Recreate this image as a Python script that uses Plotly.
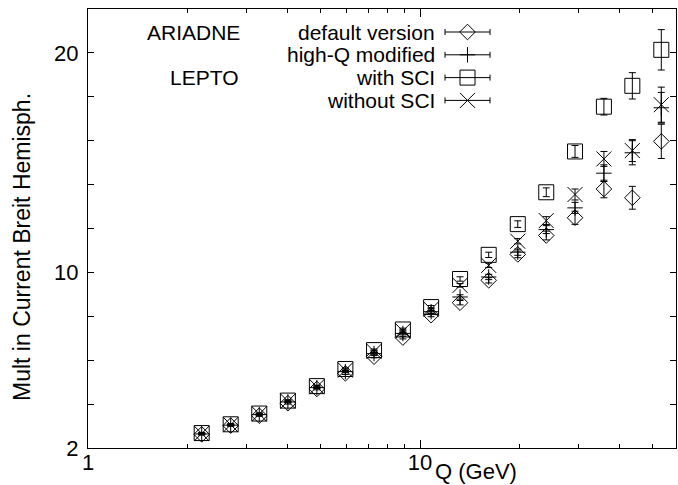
import plotly.graph_objects as go

# ---------------- data ----------------
Q = [2.2, 2.69, 3.28, 4.0, 4.89, 5.96, 7.27, 8.88, 10.8, 13.2, 16.1, 19.7, 24.0, 29.3, 35.8, 43.6, 53.3]

ariadne_default = [2.62, 3.02, 3.47, 4.04, 4.69, 5.40, 6.16, 7.03, 8.05, 8.62, 9.64, 10.82, 11.68, 12.49, 13.80, 13.40, 15.97]
ariadne_default_err = [0.03, 0.03, 0.03, 0.04, 0.04, 0.05, 0.05, 0.06, 0.07, 0.10, 0.12, 0.15, 0.20, 0.30, 0.40, 0.52, 0.78]

ariadne_highq = [2.64, 3.04, 3.52, 4.10, 4.75, 5.48, 6.30, 7.22, 8.21, 8.88, 9.79, 10.92, 11.95, 12.94, 14.52, 15.45, 17.5]
ariadne_highq_err = [0.03, 0.03, 0.03, 0.04, 0.04, 0.05, 0.05, 0.06, 0.07, 0.10, 0.12, 0.14, 0.18, 0.25, 0.38, 0.55, 0.70]

lepto_sci = [2.68, 3.08, 3.57, 4.16, 4.82, 5.60, 6.46, 7.40, 8.42, 9.70, 10.80, 12.20, 13.65, 15.51, 17.55, 18.50, 20.14]
lepto_sci_err = [0.03, 0.03, 0.03, 0.04, 0.04, 0.05, 0.05, 0.06, 0.07, 0.10, 0.12, 0.15, 0.20, 0.27, 0.38, 0.60, 0.92]

lepto_nosci = [2.66, 3.06, 3.55, 4.13, 4.79, 5.55, 6.40, 7.33, 8.32, 9.41, 10.32, 11.42, 12.36, 13.55, 15.17, 15.55, 17.64]
lepto_nosci_err = [0.03, 0.03, 0.03, 0.04, 0.04, 0.05, 0.05, 0.06, 0.07, 0.08, 0.10, 0.12, 0.18, 0.25, 0.34, 0.50, 0.80]

series_names = ["default version", "high-Q modified", "with SCI", "without SCI"]
group_labels = ["ARIADNE", "LEPTO"]

x_tick_vals = [1, 10]
x_tick_text = ["1", "10"]
x_minor_vals = [2, 3, 4, 5, 6, 7, 8, 9, 20, 30, 40, 50]
y_tick_vals = [2, 4, 6, 8, 10, 12, 14, 16, 18, 20]
y_tick_text = ["2", "", "", "", "10", "", "", "", "", "20"]

# ---------------- style ----------------
FONT = "Liberation Sans, Arial, Helvetica, sans-serif"
FS = 22
KFS = 21
W, H = 678, 485
L, R, T, B = 88, 2, 9, 37

styles = [
    dict(symbol="diamond-open", size=12),
    dict(symbol="cross-thin-open", size=11),
    dict(symbol="square-open", size=15),
    dict(symbol="x-thin-open", size=15),
]
datasets = [
    (ariadne_default, ariadne_default_err),
    (ariadne_highq, ariadne_highq_err),
    (lepto_sci, lepto_sci_err),
    (lepto_nosci, lepto_nosci_err),
]

fig = go.Figure()
for (vals, errs), st, name in zip(datasets, styles, series_names):
    fig.add_trace(go.Scatter(
        x=Q, y=vals, mode="markers", name=name, showlegend=False,
        marker=dict(symbol=st["symbol"], size=st["size"], color="black",
                    line=dict(color="black", width=1)),
        error_y=dict(type="data", array=errs, visible=True, color="black",
                     thickness=1, width=3.5),
    ))

# ---------------- hand-made key (pixel coordinates on overlay axes) ----------------
key_text_right = 437
key_marker_x = 467.5
key_half_len = 22.5
key_y0 = 32
key_dy = 22.8
for i, (st, name) in enumerate(zip(styles, series_names)):
    yy = key_y0 + i * key_dy
    fig.add_trace(go.Scatter(
        x=[key_marker_x], y=[yy], xaxis="x2", yaxis="y2", mode="markers",
        showlegend=False, hoverinfo="skip",
        marker=dict(symbol=st["symbol"], size=st["size"], color="black",
                    line=dict(color="black", width=1)),
        error_x=dict(type="data", array=[key_half_len], visible=True,
                     color="black", thickness=1, width=3),
    ))
    fig.add_annotation(x=key_text_right, y=yy, xref="x2", yref="y2",
                       text=name, showarrow=False, xanchor="right", yanchor="middle",
                       font=dict(family=FONT, size=KFS, color="black"))

fig.add_annotation(x=242, y=key_y0, xref="x2", yref="y2", text=group_labels[0],
                   showarrow=False, xanchor="right", yanchor="middle",
                   font=dict(family=FONT, size=KFS, color="black"))
fig.add_annotation(x=240, y=key_y0 + 2 * key_dy - 0.5, xref="x2", yref="y2", text=group_labels[1],
                   showarrow=False, xanchor="right", yanchor="middle",
                   font=dict(family=FONT, size=KFS, color="black"))

# axis titles
fig.add_annotation(x=(476 - L) / (W - L - R), y=-(471 - (H - B)) / (H - T - B),
                   xref="paper", yref="paper", text="Q (GeV)", showarrow=False,
                   xanchor="center", yanchor="middle",
                   font=dict(family=FONT, size=FS, color="black"))
fig.add_annotation(x=-(L - 22) / (W - L - R), y=((H - B) - 247) / (H - T - B),
                   xref="paper", yref="paper", text="Mult in Current Breit Hemisph.",
                   showarrow=False, textangle=-90, xanchor="center", yanchor="middle",
                   font=dict(family=FONT, size=23, color="black"))

axis_common = dict(showline=True, linecolor="black", linewidth=1, mirror="ticks",
                   showgrid=False, zeroline=False, ticks="inside", tickcolor="black",
                   tickwidth=1, tickfont=dict(family=FONT, size=FS, color="black"))

fig.update_layout(
    width=W, height=H,
    margin=dict(l=L, r=R, t=T, b=B, pad=0),
    paper_bgcolor="white", plot_bgcolor="white",
    showlegend=False,
    xaxis=dict(type="log", range=[0, 1.771], tickvals=x_tick_vals, ticktext=x_tick_text,
               ticklen=8, ticklabelstandoff=-5,
               minor=dict(tickvals=x_minor_vals, ticks="inside", ticklen=4,
                          tickcolor="black", tickwidth=1, showgrid=False),
               **axis_common),
    yaxis=dict(range=[2, 22], tickvals=y_tick_vals, ticktext=y_tick_text, ticklen=6,
               ticklabelstandoff=4, **axis_common),
    xaxis2=dict(overlaying="x", range=[L, W - R], visible=False, anchor="y2"),
    yaxis2=dict(overlaying="y", range=[H - B, T], visible=False, anchor="x2"),
)

fig.write_html("out.html")
